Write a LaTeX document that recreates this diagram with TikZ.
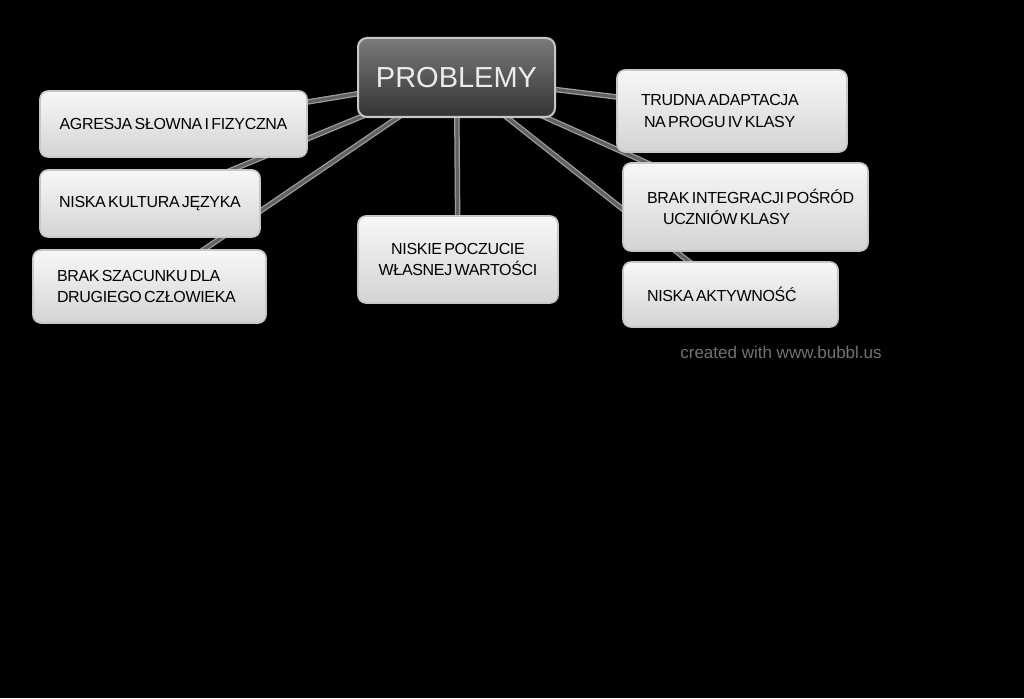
\documentclass[tikz,border=0pt]{standalone}
\usepackage{fontspec}
\setmainfont{Liberation Sans}[WordSpace=0.55, LetterSpace=-2]
\newfontfamily\hubfont{Liberation Sans}
\usetikzlibrary{shadings}
\pgfdeclarelayer{background}
\pgfsetlayers{background,main}
\tikzset{
  x=1pt, y=-1pt,
  box/.style={draw=black!22, line width=1.6pt, rounded corners=8pt,
    top color=white!97!black, bottom color=black!17,
    font=\fontsize{16}{21.5}\selectfont, text=black, inner ysep=0pt},
  lbox/.style={box, inner xsep=24pt, align=flush left},
  hub/.style={draw=black!22, line width=2pt, rounded corners=9pt,
    top color=black!52, bottom color=black!80,
    font=\hubfont\fontsize{29}{30}\selectfont, text=white!92!black,
    minimum width=197pt, minimum height=79pt},
  linkouter/.style={line width=5.5pt, draw=black!38},
  linkinner/.style={line width=3pt, draw=black!62},
}
\begin{document}
\begin{tikzpicture}
\useasboundingbox (0,0) rectangle (1024,698);
% nodes
\node[hub] (P) at (456.5,77.5) {PROBLEMY};
\node[box, minimum width=267pt, minimum height=66pt, align=center] (A) at (173.5,124) {AGRESJA SŁOWNA I FIZYCZNA};
\node[box, minimum width=220pt, minimum height=67pt, align=center] (K) at (150,203.5) {NISKA KULTURA JĘZYKA};
\node[lbox, text width=185pt, minimum height=73pt] (S) at (149.5,286.5) {BRAK SZACUNKU DLA\\DRUGIEGO CZŁOWIEKA};
\node[box, minimum width=200pt, minimum height=87pt, align=center] (W) at (458,259.5) {NISKIE POCZUCIE\\WŁASNEJ WARTOŚCI};
\node[lbox, text width=182pt, minimum height=82pt] (T) at (732,111) {TRUDNA ADAPTACJA\\\hspace*{3pt}NA PROGU IV KLASY};
\node[lbox, text width=197pt, minimum height=88pt] (I) at (745.5,207) {\mbox{BRAK INTEGRACJI POŚRÓD}\\\hspace*{16pt}UCZNIÓW KLASY};
\node[lbox, text width=167pt, minimum height=65pt] (N) at (730.5,294.5) {NISKA AKTYWNOŚĆ};
\node[text=black!55, font=\hubfont\fontsize{17}{20}\selectfont, inner sep=0pt] (C) at (781,352) {created with www.bubbl.us};
% background and connectors
\begin{pgfonlayer}{background}
\fill[black] (0,0) rectangle (1024,698);
\foreach \t in {A,K,S,W,T,I,N}{
  \draw[linkouter] (P.center) -- (\t.center);
}
\foreach \t in {A,K,S,W,T,I,N}{
  \draw[linkinner] (P.center) -- (\t.center);
}
\end{pgfonlayer}
\end{tikzpicture}
\end{document}
